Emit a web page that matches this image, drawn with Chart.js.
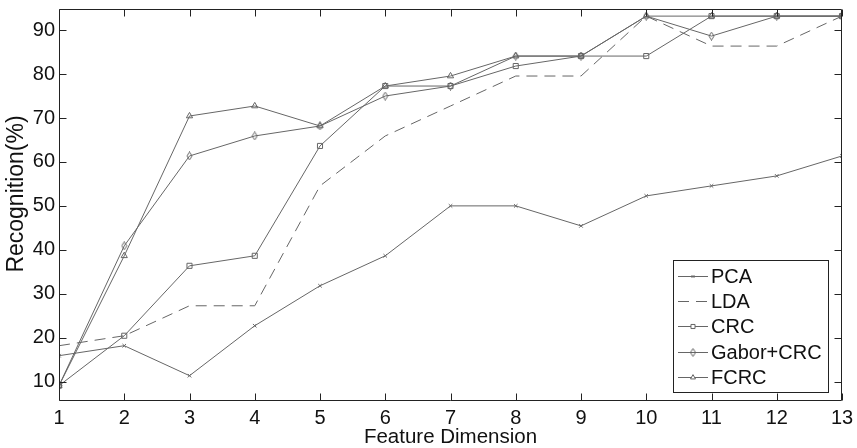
<!DOCTYPE html>
<html>
<head>
<meta charset="utf-8">
<script src="https://cdn.jsdelivr.net/npm/chart.js@4/dist/chart.umd.min.js"></script>
<style>
  html, body { margin: 0; padding: 0; background: #fff; }
  #wrap { width: 857px; height: 448px; }
</style>
</head>
<body>
<div id="wrap"><canvas id="c" width="857" height="448"></canvas></div>
<script>
// Recognition rate (%) against feature dimension for each method
const dims = [1, 2, 3, 4, 5, 6, 7, 8, 9, 10, 11, 12, 13];
const pca   = [15.91, 18.18, 11.36, 22.73, 31.82, 38.64, 50.00, 50.00, 45.45, 52.27, 54.55, 56.82, 61.36];
const lda   = [18.18, 20.45, 27.27, 27.27, 54.55, 65.91, 72.73, 79.55, 79.55, 93.18, 86.36, 86.36, 93.18];
const crc   = [9.09, 20.45, 36.36, 38.64, 63.64, 77.27, 77.27, 81.82, 84.09, 84.09, 93.18, 93.18, 93.18];
const gabor = [9.09, 40.91, 61.36, 65.91, 68.18, 75.00, 77.27, 84.09, 84.09, 93.18, 88.64, 93.18, 93.18];
const fcrc  = [9.09, 38.64, 70.45, 72.73, 68.18, 77.27, 79.55, 84.09, 84.09, 93.18, 93.18, 93.18, 93.18];
const seriesNames = ['PCA', 'LDA', 'CRC', 'Gabor+CRC', 'FCRC'];
const yTickValues = [10, 20, 30, 40, 50, 60, 70, 80, 90];

const LINE = '#666666';
const TEXT = '#111';
const FONT = "'Liberation Sans', Arial, Helvetica, sans-serif";

// narrow outline diamond marker
function diamondMarker() {
  const cv = document.createElement('canvas');
  cv.width = 7; cv.height = 9;
  const g = cv.getContext('2d');
  g.strokeStyle = LINE; g.lineWidth = 1;
  g.beginPath();
  g.moveTo(3.5, 0.5); g.lineTo(6, 4.5); g.lineTo(3.5, 8.5); g.lineTo(1, 4.5); g.closePath();
  g.stroke();
  return cv;
}
const diamond = diamondMarker();

const pts = arr => arr.map((v, i) => ({ x: dims[i], y: v }));
const base = {
  borderColor: LINE, borderWidth: 1, tension: 0, fill: false,
  pointBorderColor: LINE, pointBackgroundColor: 'rgba(0,0,0,0)', pointBorderWidth: 1
};

const datasets = [
  Object.assign({}, base, { label: seriesNames[0], data: pts(pca),   pointStyle: 'crossRot', pointRadius: 2.5 }),
  Object.assign({}, base, { label: seriesNames[1], data: pts(lda),   pointRadius: 0, borderDash: [11, 7] }),
  Object.assign({}, base, { label: seriesNames[2], data: pts(crc),   pointStyle: 'rect', pointRadius: 3.6 }),
  Object.assign({}, base, { label: seriesNames[3], data: pts(gabor), pointStyle: diamond, pointRadius: 4 }),
  Object.assign({}, base, { label: seriesNames[4], data: pts(fcrc),  pointStyle: 'triangle', pointRadius: 3.6 })
];

// axes frame with inward tick marks on all four sides, plus the y-axis title
const framePlugin = {
  id: 'frame',
  afterDatasetsDraw(chart) {
    const { ctx, chartArea: a, scales } = chart;
    const L = Math.round(a.left) + 0.5, R = Math.round(a.right) - 0.5;
    const T = Math.round(a.top) + 0.5, B = Math.round(a.bottom) - 0.5;
    const tl = 7;
    ctx.save();
    ctx.strokeStyle = '#222';
    ctx.lineWidth = 1;
    ctx.beginPath();
    ctx.rect(L, T, R - L, B - T);
    dims.forEach(d => {
      const x = Math.round(scales.x.getPixelForValue(d)) + 0.5;
      ctx.moveTo(x, B); ctx.lineTo(x, B - tl);
      ctx.moveTo(x, T); ctx.lineTo(x, T + tl);
    });
    yTickValues.forEach(v => {
      const y = Math.round(scales.y.getPixelForValue(v)) + 0.5;
      ctx.moveTo(L, y); ctx.lineTo(L + tl, y);
      ctx.moveTo(R, y); ctx.lineTo(R - tl, y);
    });
    ctx.stroke();

    ctx.translate(17, 194);
    ctx.rotate(-Math.PI / 2);
    ctx.font = '23px ' + FONT;
    ctx.fillStyle = TEXT;
    ctx.textAlign = 'center';
    ctx.textBaseline = 'middle';
    ctx.fillText('Recognition(%)', 0, 0);
    ctx.restore();
  }
};

// boxed legend in the lower right corner of the plot
const legendPlugin = {
  id: 'boxLegend',
  afterDraw(chart) {
    const { ctx } = chart;
    const box = { x: 673.5, y: 260.5, w: 155, h: 132 };
    ctx.save();
    ctx.fillStyle = '#fff';
    ctx.fillRect(box.x, box.y, box.w, box.h);
    ctx.strokeStyle = '#222';
    ctx.lineWidth = 1;
    ctx.strokeRect(box.x, box.y, box.w, box.h);
    ctx.font = '20px ' + FONT;
    ctx.textBaseline = 'middle';
    chart.data.datasets.forEach((ds, i) => {
      const y = Math.round(276 + i * 25.2) + 0.5;
      ctx.strokeStyle = ds.borderColor;
      ctx.lineWidth = 1;
      ctx.setLineDash(ds.borderDash || []);
      ctx.beginPath();
      ctx.moveTo(678, y); ctx.lineTo(708, y);
      ctx.stroke();
      ctx.setLineDash([]);
      if (ds.pointRadius > 0) {
        ctx.fillStyle = '#fff';
        ctx.strokeStyle = ds.pointBorderColor;
        Chart.helpers.drawPoint(ctx, {
          pointStyle: ds.pointStyle, radius: ds.pointRadius * 0.8, borderWidth: 1, rotation: 0
        }, 693, y);
      }
      ctx.fillStyle = TEXT;
      ctx.fillText(ds.label, 711, y + 1);
    });
    ctx.restore();
  }
};

new Chart(document.getElementById('c'), {
  type: 'line',
  data: { datasets },
  plugins: [framePlugin, legendPlugin],
  options: {
    responsive: false,
    devicePixelRatio: 1,
    animation: false,
    layout: { padding: { left: 0, right: 15, top: 9, bottom: 0 } },
    plugins: { legend: { display: false }, tooltip: { enabled: false } },
    scales: {
      x: {
        type: 'linear', min: 1, max: 13,
        grid: { display: false, drawTicks: false }, border: { display: false },
        afterBuildTicks: s => { s.ticks = dims.map(v => ({ value: v })); },
        afterFit: s => { s.height = 47; s.paddingLeft = 0; s.paddingRight = 0; },
        ticks: { color: TEXT, font: { family: FONT, size: 20 }, padding: 5, maxRotation: 0, autoSkip: false },
        title: { display: true, text: 'Feature Dimension', color: TEXT,
                 font: { family: FONT, size: 20.5 }, padding: { top: 0, bottom: -2 } }
      },
      y: {
        min: 5.6, max: 94.8,
        grid: { display: false, drawTicks: false }, border: { display: false },
        afterBuildTicks: s => { s.ticks = yTickValues.map(v => ({ value: v })); },
        afterFit: s => { s.width = 59; s.paddingTop = 0; s.paddingBottom = 0; },
        ticks: { color: TEXT, font: { family: FONT, size: 20 }, padding: 4 },
        title: { display: false }
      }
    }
  }
});
</script>
</body>
</html>
